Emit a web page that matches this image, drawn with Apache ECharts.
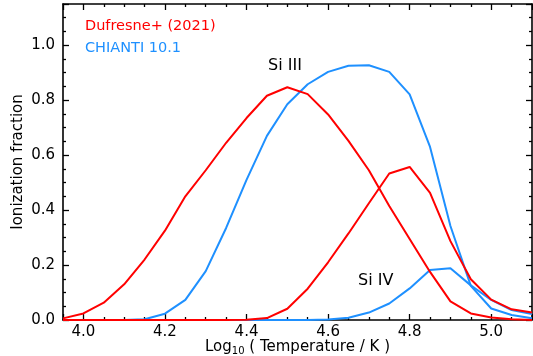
<!DOCTYPE html>
<html>
<head>
<meta charset="utf-8">
<script src="https://cdn.jsdelivr.net/npm/echarts@6/dist/echarts.min.js"></script>
<style>
  html, body { margin: 0; padding: 0; background: #fff; }
  #chart { width: 533px; height: 356px; }
</style>
</head>
<body>
<div id="chart"></div>
<script>
// log10 T grid (step 0.05)
const logT = [3.95, 4.00, 4.05, 4.10, 4.15, 4.20, 4.25, 4.30, 4.35, 4.40, 4.45, 4.50,
  4.55, 4.60, 4.65, 4.70, 4.75, 4.80, 4.85, 4.90, 4.95, 5.00, 5.05, 5.10];

// Dufresne+ (2021)
const dufSi3 = [0.006, 0.024, 0.063, 0.13, 0.22, 0.325, 0.45, 0.545, 0.645, 0.735, 0.816, 0.847,
  0.822, 0.748, 0.652, 0.545, 0.415, 0.295, 0.175, 0.068, 0.024, 0.009, 0.003, 0.0];
const dufSi4 = [0, 0, 0, 0, 0, 0, 0, 0, 0, 0.001, 0.007, 0.041,
  0.114, 0.21, 0.315, 0.425, 0.533, 0.557, 0.463, 0.287, 0.148, 0.074, 0.039, 0.027];

// CHIANTI 10.1
const chiSi3 = [0, 0, 0, 0, 0.003, 0.023, 0.073, 0.178, 0.335, 0.51, 0.67, 0.785,
  0.858, 0.903, 0.925, 0.927, 0.903, 0.821, 0.63, 0.342, 0.124, 0.042, 0.018, 0.006];
const chiSi4 = [0, 0, 0, 0, 0, 0, 0, 0, 0, 0, 0, 0,
  0, 0.002, 0.008, 0.027, 0.06, 0.115, 0.182, 0.188, 0.126, 0.073, 0.036, 0.022];

const FONT = 'DejaVu Sans';
const RED = '#ff0000';
const BLUE = '#1e90ff';

function pairs(ys) {
  return logT.map((t, i) => [t, ys[i]]);
}

// labels only on multiples of 0.2 (hides the range-end ticks 3.95 / 5.1 / 1.15)
function majorLabel(v) {
  return Math.abs(v * 5 - Math.round(v * 5)) < 1e-6 ? v.toFixed(1) : '';
}

// inward major + minor ticks on one side of the box
function boxAxis(position, min, max, withLabel, margin) {
  return {
    type: 'value',
    position: position,
    min: min,
    max: max,
    nameMoveOverlap: false,
    axisLine: { show: true, onZero: false, lineStyle: { color: '#000', width: 1.6 } },
    splitLine: { show: false },
    axisTick: {
      show: true,
      inside: true,
      length: 6,
      lineStyle: { color: '#000', width: 1.3 }
    },
    minorTick: {
      show: true,
      splitNumber: 4,
      length: 3,
      lineStyle: { color: '#000', width: 1.3 }
    },
    axisLabel: {
      show: withLabel,
      margin: margin,
      color: '#000',
      fontFamily: FONT,
      fontSize: 15,
      formatter: majorLabel
    }
  };
}

const chart = echarts.init(document.getElementById('chart'));

const xMain = boxAxis('bottom', 3.95, 5.1, true, 5);
xMain.name = '{a|Log}{s|10}{a| ( Temperature / K )}';
xMain.nameLocation = 'middle';
xMain.nameGap = 18;
xMain.nameTextStyle = {
  rich: {
    a: { fontFamily: FONT, fontSize: 15, color: '#000', lineHeight: 18 },
    s: { fontFamily: FONT, fontSize: 10, color: '#000', lineHeight: 18, verticalAlign: 'bottom' }
  }
};

const yMain = boxAxis('left', 0, 1.15, true, 8);
yMain.name = 'Ionization fraction';
yMain.nameLocation = 'middle';
yMain.nameGap = 37;
yMain.nameTextStyle = { fontFamily: FONT, fontSize: 15, color: '#000' };

function line(name, ys, color) {
  return {
    name: name,
    type: 'line',
    xAxisIndex: 0,
    yAxisIndex: 0,
    data: pairs(ys),
    showSymbol: false,
    symbol: 'none',
    smooth: false,
    lineStyle: { color: color, width: 2 },
    itemStyle: { color: color },
    animation: false
  };
}

chart.setOption({
  animation: false,
  backgroundColor: '#fff',
  grid: {
    left: 63,
    right: 1,
    top: 4,
    bottom: 36,
    outerBoundsMode: 'none',
    containLabel: false
  },
  xAxis: [xMain, boxAxis('top', 3.95, 5.1, false, 5)],
  yAxis: [yMain, boxAxis('right', 0, 1.15, false, 8)],
  series: [
    line('CHIANTI Si III', chiSi3, BLUE),
    line('CHIANTI Si IV', chiSi4, BLUE),
    line('Dufresne Si III', dufSi3, RED),
    line('Dufresne Si IV', dufSi4, RED)
  ],
  graphic: [
    { type: 'text', left: 85, top: 19, style: { text: 'Dufresne+ (2021)', fill: RED, font: '14.5px "DejaVu Sans"' } },
    { type: 'text', left: 85, top: 41, style: { text: 'CHIANTI 10.1', fill: BLUE, font: '14.5px "DejaVu Sans"' } },
    { type: 'text', left: 268, top: 58, style: { text: 'Si III', fill: '#000', font: '16px "DejaVu Sans"' } },
    { type: 'text', left: 358, top: 273, style: { text: 'Si IV', fill: '#000', font: '16px "DejaVu Sans"' } }
  ]
});
</script>
</body>
</html>
